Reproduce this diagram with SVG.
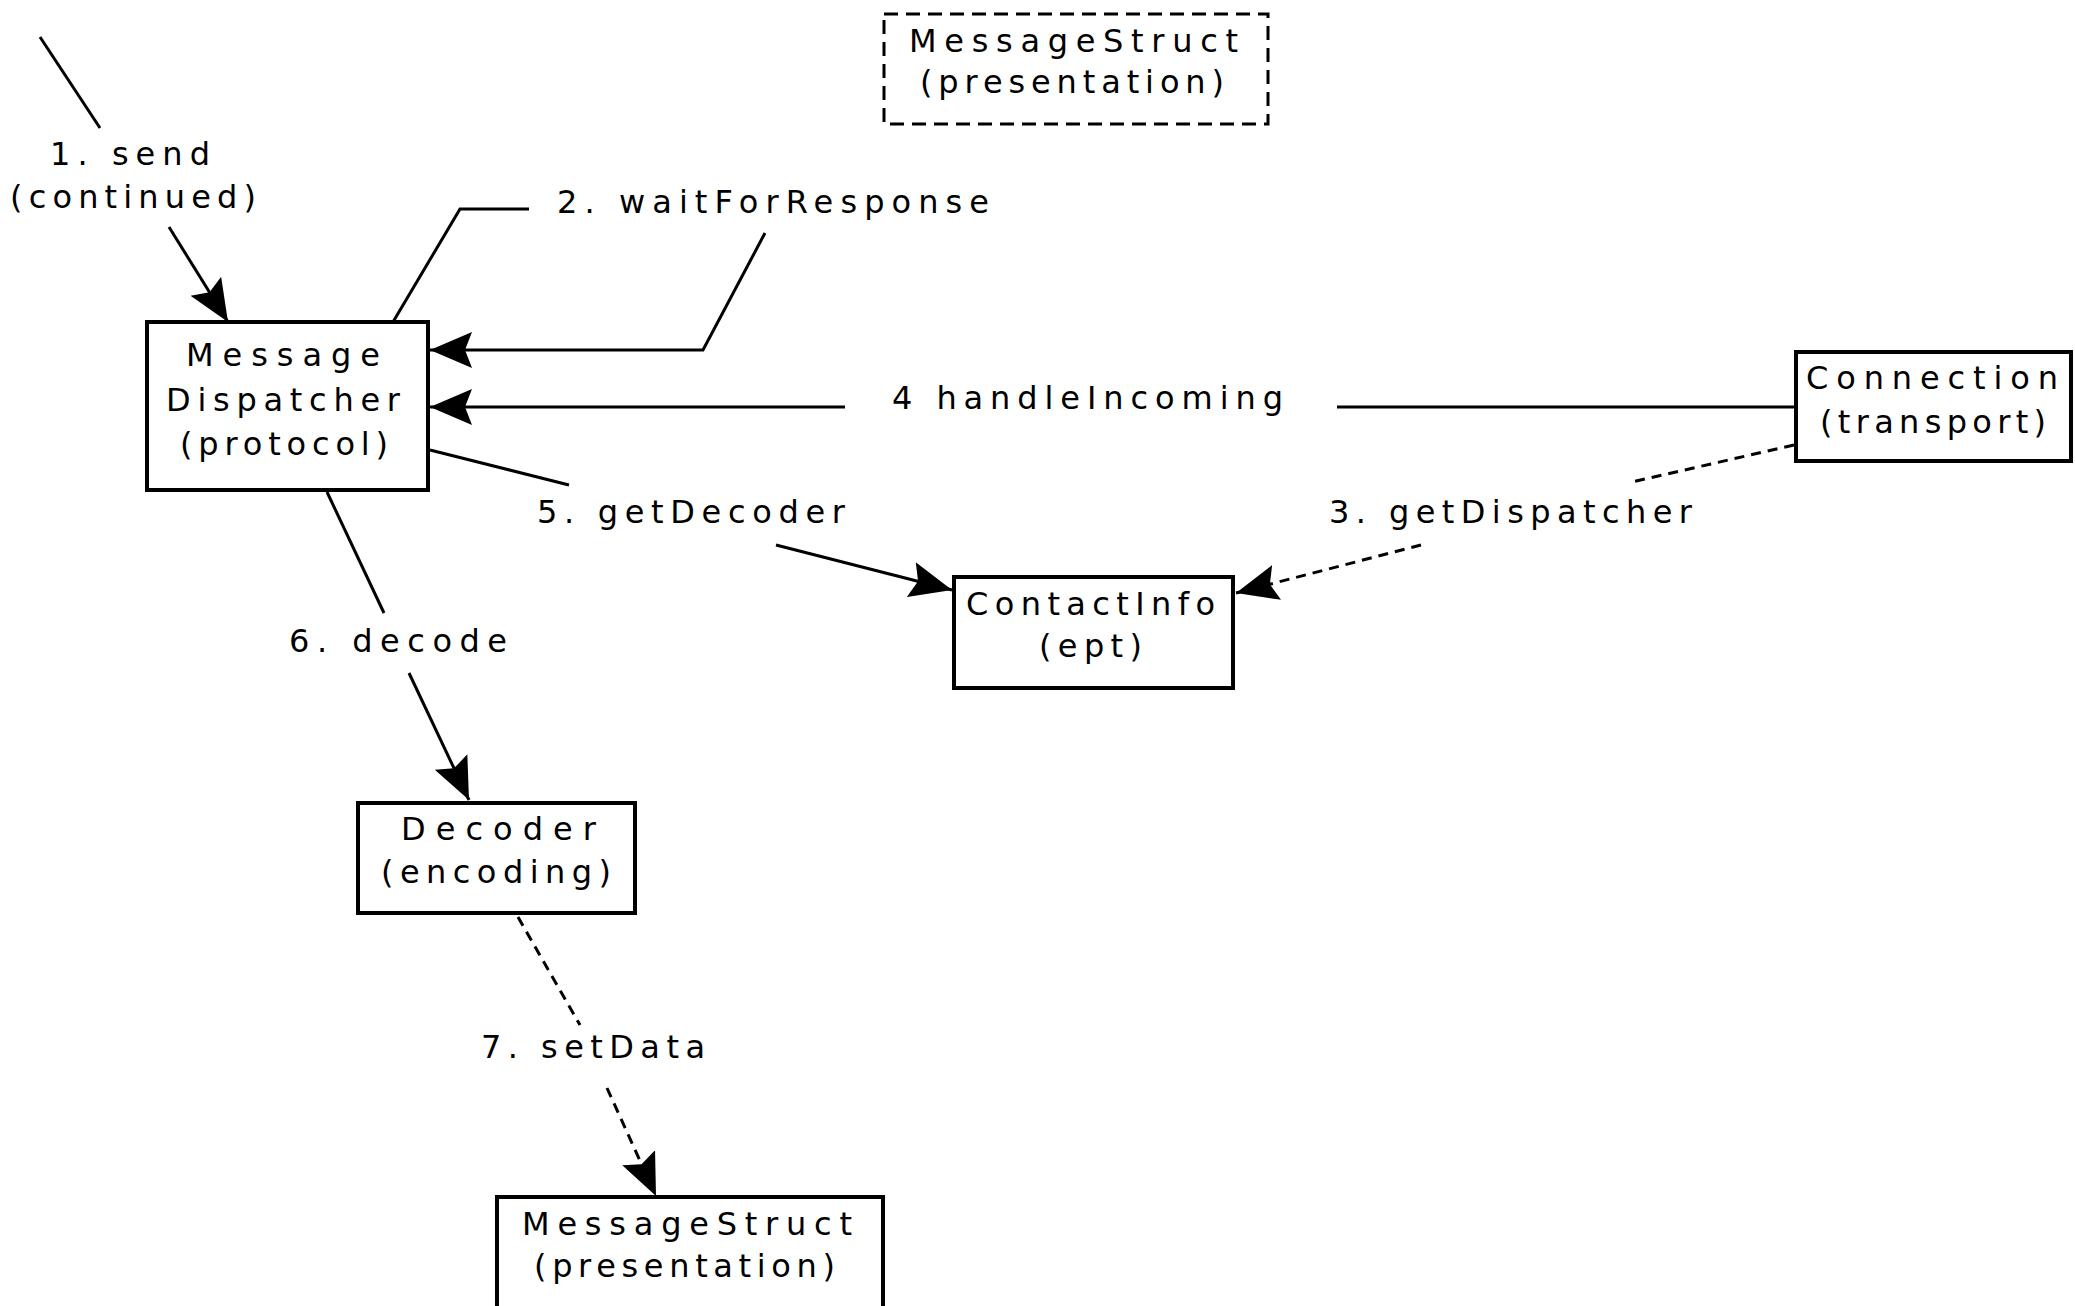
<svg xmlns="http://www.w3.org/2000/svg" width="2075" height="1306" viewBox="0 0 2075 1306">
  <style>
    .box { fill: #fff; stroke: #000; stroke-width: 4; }
    .dbox { fill: none; stroke: #000; stroke-width: 3; stroke-dasharray: 14 8; }
    .t { font-family: "DejaVu Sans", "Liberation Sans", Arial, sans-serif; font-size: 32px; fill: #000; }
    .ln { fill: none; stroke: #000; stroke-width: 3; }
    .dash { fill: none; stroke: #000; stroke-width: 3; stroke-dasharray: 10 7; }
  </style>
  <defs>
    <marker id="head" markerUnits="userSpaceOnUse" markerWidth="44" markerHeight="38" viewBox="0 -19 44 38" refX="42" refY="0" orient="auto">
      <path d="M0,-18 L42,0 L0,18 L7,0 z" fill="#000"/>
    </marker>
  </defs>
  <rect width="2075" height="1306" fill="#fff"/>

  <!-- message connectors -->
  <g id="connectors">
    <!-- 1. send (continued) -->
    <line class="ln" x1="40" y1="37" x2="100" y2="128"/>
    <line class="ln" x1="169" y1="227" x2="228" y2="322" marker-end="url(#head)"/>
    <!-- 2. waitForResponse -->
    <polyline class="ln" points="393,322 460,209 529,209"/>
    <polyline class="ln" points="765,233 703,350 430,350" marker-end="url(#head)"/>
    <!-- 4 handleIncoming -->
    <line class="ln" x1="1794" y1="407" x2="1337" y2="407"/>
    <line class="ln" x1="845" y1="407" x2="430" y2="407" marker-end="url(#head)"/>
    <!-- 5. getDecoder -->
    <line class="ln" x1="430" y1="450" x2="569" y2="485"/>
    <line class="ln" x1="776" y1="545" x2="952" y2="590" marker-end="url(#head)"/>
    <!-- 3. getDispatcher -->
    <line class="dash" x1="1794" y1="445" x2="1632" y2="482"/>
    <line class="dash" x1="1421" y1="545" x2="1236" y2="593" marker-end="url(#head)"/>
    <!-- 6. decode -->
    <line class="ln" x1="327" y1="492" x2="384" y2="613"/>
    <line class="ln" x1="409" y1="673" x2="469" y2="800" marker-end="url(#head)"/>
    <!-- 7. setData -->
    <line class="dash" x1="518" y1="917" x2="580" y2="1025"/>
    <line class="dash" x1="607" y1="1088" x2="656" y2="1196" marker-end="url(#head)"/>
  </g>

  <!-- connector labels -->
  <g id="labels">
    <text class="t" x="50" y="165" textLength="160" lengthAdjust="spacing">1. send</text>
    <text class="t" x="10" y="208" textLength="246" lengthAdjust="spacing">(continued)</text>
    <text class="t" x="557" y="213" textLength="432" lengthAdjust="spacing">2. waitForResponse</text>
    <text class="t" x="892" y="409" textLength="391" lengthAdjust="spacing">4 handleIncoming</text>
    <text class="t" x="537" y="523" textLength="308" lengthAdjust="spacing">5. getDecoder</text>
    <text class="t" x="1329" y="523" textLength="363" lengthAdjust="spacing">3. getDispatcher</text>
    <text class="t" x="289" y="652" textLength="218" lengthAdjust="spacing">6. decode</text>
    <text class="t" x="481" y="1058" textLength="224" lengthAdjust="spacing">7. setData</text>
  </g>

  <!-- nodes -->
  <g id="messagestruct-ref">
    <rect class="dbox" x="884" y="14" width="384" height="110"/>
    <text class="t" x="909" y="52" textLength="329" lengthAdjust="spacing">MessageStruct</text>
    <text class="t" x="920" y="93" textLength="304" lengthAdjust="spacing">(presentation)</text>
  </g>

  <g id="message-dispatcher">
    <rect class="box" x="147" y="322" width="281" height="168"/>
    <text class="t" x="186" y="366" textLength="194" lengthAdjust="spacing">Message</text>
    <text class="t" x="166" y="411" textLength="234" lengthAdjust="spacing">Dispatcher</text>
    <text class="t" x="180" y="455" textLength="208" lengthAdjust="spacing">(protocol)</text>
  </g>

  <g id="connection">
    <rect class="box" x="1796" y="352" width="275" height="109"/>
    <text class="t" x="1806" y="389" textLength="252" lengthAdjust="spacing">Connection</text>
    <text class="t" x="1820" y="433" textLength="226" lengthAdjust="spacing">(transport)</text>
  </g>

  <g id="contactinfo">
    <rect class="box" x="954" y="577" width="279" height="111"/>
    <text class="t" x="966" y="615" textLength="249" lengthAdjust="spacing">ContactInfo</text>
    <text class="t" x="1039" y="657" textLength="103" lengthAdjust="spacing">(ept)</text>
  </g>

  <g id="decoder">
    <rect class="box" x="358" y="803" width="277" height="110"/>
    <text class="t" x="401" y="840" textLength="195" lengthAdjust="spacing">Decoder</text>
    <text class="t" x="381" y="883" textLength="230" lengthAdjust="spacing">(encoding)</text>
  </g>

  <g id="messagestruct">
    <rect class="box" x="497" y="1197" width="386" height="200"/>
    <text class="t" x="522" y="1235" textLength="330" lengthAdjust="spacing">MessageStruct</text>
    <text class="t" x="534" y="1277" textLength="301" lengthAdjust="spacing">(presentation)</text>
  </g>
</svg>
